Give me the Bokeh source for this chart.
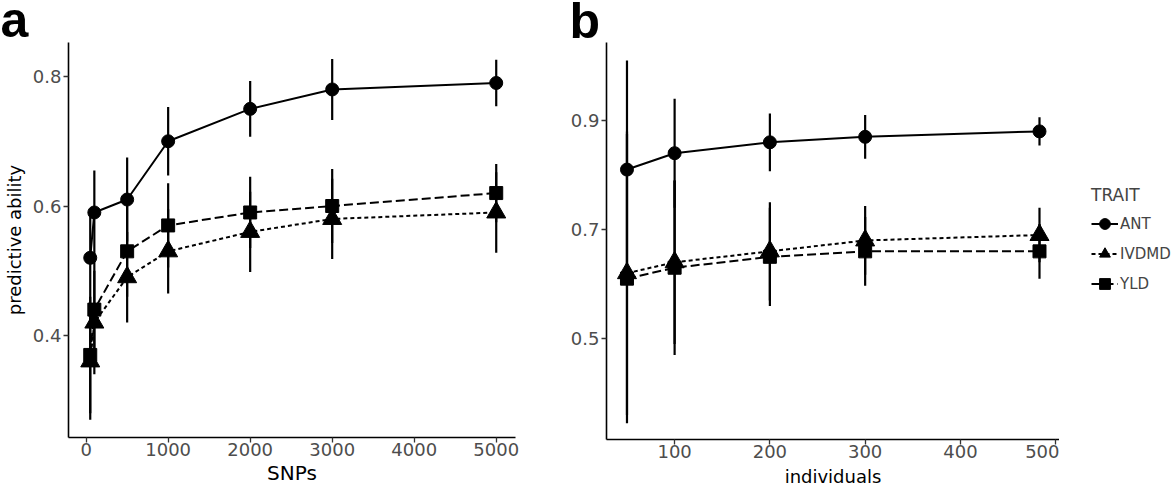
from bokeh.plotting import figure
from bokeh.layouts import row, column
from bokeh.models import Range1d, Legend, LegendItem, Label, FixedTicker
from bokeh.embed import file_html
from bokeh.resources import INLINE

# ---------------- data ----------------
snps = [50, 100, 500, 1000, 2000, 3000, 5000]
ant_a = [0.52, 0.59, 0.61, 0.70, 0.75, 0.78, 0.79]
ivdmd_a = [0.36, 0.42, 0.49, 0.53, 0.56, 0.58, 0.59]
yld_a = [0.37, 0.44, 0.53, 0.57, 0.59, 0.60, 0.62]
ant_a_err = [0.07, 0.065, 0.065, 0.053, 0.043, 0.047, 0.036]
ivdmd_a_err = [0.09, 0.08, 0.07, 0.065, 0.062, 0.062, 0.062]
yld_a_err = [0.09, 0.075, 0.07, 0.065, 0.055, 0.057, 0.045]

individuals = [50, 100, 200, 300, 483]
ant_b = [0.81, 0.84, 0.86, 0.87, 0.88]
ivdmd_b = [0.62, 0.64, 0.66, 0.68, 0.69]
yld_b = [0.61, 0.63, 0.65, 0.66, 0.66]
ant_b_err = [0.20, 0.10, 0.053, 0.04, 0.026]
ivdmd_b_err = [0.26, 0.15, 0.09, 0.063, 0.05]
yld_b_err = [0.265, 0.16, 0.09, 0.063, 0.05]

traits = ["ANT", "IVDMD", "YLD"]
xticks_a = [0, 1000, 2000, 3000, 4000, 5000]
yticks_a = [0.4, 0.6, 0.8]
xticks_b = [100, 200, 300, 400, 500]
yticks_b = [0.5, 0.7, 0.9]

STYLE = {
    "ANT": dict(dash="solid", marker="circle", size=13),
    "IVDMD": dict(dash="4 3", marker="triangle", size=19),
    "YLD": dict(dash="9 4", marker="square", size=13),
}


def blank(p):
    p.grid.visible = False
    p.outline_line_color = None
    p.background_fill_color = "white"
    p.border_fill_color = "white"


def style(p):
    p.xgrid.visible = False
    p.ygrid.visible = False
    p.outline_line_color = None
    p.background_fill_color = "white"
    p.border_fill_color = "white"
    for ax in (p.xaxis[0], p.yaxis[0]):
        ax.axis_line_width = 1.6
        ax.axis_line_color = "black"
        ax.major_tick_line_color = "#333333"
        ax.major_tick_line_width = 1.3
        ax.major_tick_out = 5
        ax.major_tick_in = 0
        ax.minor_tick_line_color = None
        ax.major_label_text_color = "#4D4D4D"
        ax.major_label_text_font = "DejaVu Sans"
        ax.major_label_text_font_size = "18px"
        ax.axis_label_text_font = "DejaVu Sans"
        ax.axis_label_text_font_size = "18px"
        ax.axis_label_text_font_style = "normal"
        ax.axis_label_text_color = "black"
        ax.major_label_standoff = 0
        ax.axis_label_standoff = 2
    p.yaxis[0].major_label_standoff = 2
    p.yaxis[0].axis_label_standoff = 5


def draw(p, x, series):
    rends = {}
    for name, y, err in series:
        lo = [v - e for v, e in zip(y, err)]
        hi = [v + e for v, e in zip(y, err)]
        p.segment(x0=x, y0=lo, x1=x, y1=hi, line_color="black", line_width=2.2)
    for name, y, err in series:
        st = STYLE[name]
        lr = p.line(x, y, line_color="black", line_width=2, line_dash=st["dash"])
        sr = p.scatter(x, y, marker=st["marker"], size=st["size"], fill_color="black",
                       line_color="black")
        rends[name] = (lr, sr)
    return rends


# ---------------- header with panel letters ----------------
hdr = figure(width=1174, height=42, min_border=0, title=None,
             x_axis_location=None, y_axis_location=None,
             x_range=Range1d(0, 1), y_range=Range1d(0, 1),
             output_backend="svg", toolbar_location=None)
blank(hdr)
for txt, xs, ys in (("a", 0, 23), ("b", 569, 22)):
    hdr.add_layout(Label(x=xs, y=ys, x_units="screen", y_units="screen", text=txt,
                         text_font="Liberation Sans", text_font_style="bold",
                         text_font_size="50px", text_baseline="alphabetic",
                         text_color="black"))

# ---------------- panel a ----------------
p1 = figure(frame_width=447, frame_height=395, min_border_left=68, min_border_right=20,
            min_border_top=0, min_border_bottom=52, title=None,
            x_range=Range1d(-215, 5235), y_range=Range1d(0.2425, 0.8525),
            output_backend="svg", toolbar_location=None)
style(p1)
p1.xaxis[0].ticker = FixedTicker(ticks=xticks_a)
p1.yaxis[0].ticker = FixedTicker(ticks=yticks_a)
p1.xaxis[0].axis_label = "SNPs"
p1.xaxis[0].axis_label_text_font_size = "20px"
p1.yaxis[0].axis_label = "predictive ability"
draw(p1, snps, [("ANT", ant_a, ant_a_err), ("IVDMD", ivdmd_a, ivdmd_a_err), ("YLD", yld_a, yld_a_err)])

# ---------------- panel b ----------------
p2 = figure(frame_width=453, frame_height=397, min_border_left=71, min_border_right=0,
            min_border_top=0, min_border_bottom=50, title=None,
            x_range=Range1d(28.5, 504), y_range=Range1d(0.315, 1.043),
            output_backend="svg", toolbar_location=None)
style(p2)
p2.xaxis[0].ticker = FixedTicker(ticks=xticks_b)
p2.yaxis[0].ticker = FixedTicker(ticks=yticks_b)
p2.xaxis[0].axis_label = "individuals"
p2.xaxis[0].axis_label_standoff = 5
draw(p2, individuals, [("ANT", ant_b, ant_b_err), ("IVDMD", ivdmd_b, ivdmd_b_err), ("YLD", yld_b, yld_b_err)])

# ---------------- legend panel ----------------
p3 = figure(width=115, height=447, min_border=0, title=None,
            x_axis_location=None, y_axis_location=None,
            x_range=Range1d(-10, -9), y_range=Range1d(-10, -9),
            output_backend="svg", toolbar_location=None)
blank(p3)
rl = draw(p3, individuals, [("ANT", ant_b, ant_b_err), ("IVDMD", ivdmd_b, ivdmd_b_err), ("YLD", yld_b, yld_b_err)])
legend = Legend(items=[LegendItem(label=t, renderers=list(rl[t])) for t in traits],
                title="TRAIT", location=(32, 140), orientation="vertical",
                glyph_width=27, glyph_height=27, label_height=27, spacing=3,
                label_standoff=2, padding=0, margin=0,
                border_line_color=None, background_fill_alpha=0,
                label_text_font="DejaVu Sans", label_text_font_size="15px",
                title_text_font="DejaVu Sans", title_text_font_size="17px",
                title_text_font_style="normal", title_standoff=5)
p3.add_layout(legend, "center")

layout = column(hdr, row(p1, p2, p3))
open("out.html", "w").write(file_html(layout, INLINE))
